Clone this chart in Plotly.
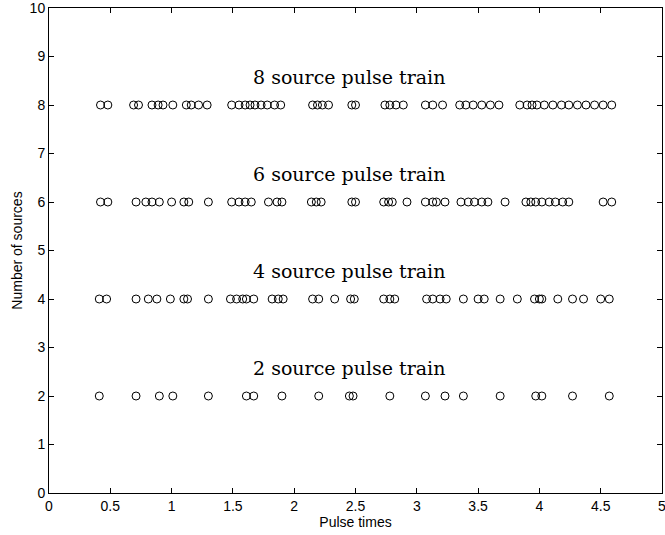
import plotly.graph_objects as go

# Pulse times, one list per train
times_2 = [0.41, 0.71, 0.90, 1.01, 1.30, 1.61, 1.67, 1.90, 2.20, 2.45, 2.48,
           2.78, 3.07, 3.23, 3.38, 3.68, 3.97, 4.02, 4.27, 4.57]
times_4 = [0.41, 0.47, 0.71, 0.81, 0.88, 0.99, 1.10, 1.13, 1.30, 1.48, 1.53,
           1.58, 1.61, 1.67, 1.82, 1.87, 1.91, 2.15, 2.20, 2.33, 2.46, 2.49,
           2.73, 2.78, 2.82, 3.08, 3.13, 3.19, 3.24, 3.38, 3.50, 3.55, 3.68,
           3.82, 3.96, 4.00, 4.02, 4.15, 4.27, 4.36, 4.50, 4.57]
times_6 = [0.42, 0.48, 0.71, 0.79, 0.84, 0.90, 1.00, 1.10, 1.14, 1.30, 1.49,
           1.55, 1.60, 1.65, 1.79, 1.86, 1.90, 2.14, 2.18, 2.22, 2.47, 2.50,
           2.73, 2.77, 2.80, 2.92, 3.07, 3.13, 3.16, 3.23, 3.36, 3.42, 3.47,
           3.53, 3.58, 3.72, 3.89, 3.93, 3.97, 4.02, 4.08, 4.13, 4.19, 4.24,
           4.52, 4.59]
times_8 = [0.42, 0.48, 0.69, 0.73, 0.84, 0.89, 0.93, 1.01, 1.12, 1.16, 1.22,
           1.29, 1.49, 1.55, 1.60, 1.64, 1.68, 1.73, 1.78, 1.84, 1.89, 2.15,
           2.19, 2.23, 2.28, 2.47, 2.50, 2.74, 2.78, 2.83, 2.89, 3.07, 3.13,
           3.21, 3.35, 3.40, 3.46, 3.53, 3.60, 3.67, 3.84, 3.90, 3.94, 3.98,
           4.04, 4.11, 4.18, 4.24, 4.31, 4.38, 4.45, 4.52, 4.59]

trains = [(2, times_2), (4, times_4), (6, times_6), (8, times_8)]
labels = ["2 source pulse train", "4 source pulse train",
          "6 source pulse train", "8 source pulse train"]

x_ticks = [0, 0.5, 1, 1.5, 2, 2.5, 3, 3.5, 4, 4.5, 5]
x_tick_text = ["0", "0.5", "1", "1.5", "2", "2.5", "3", "3.5", "4", "4.5", "5"]
y_ticks = list(range(0, 11))

fig = go.Figure()
for n, t in trains:
    fig.add_trace(go.Scatter(
        x=t, y=[n] * len(t), mode="markers",
        marker=dict(symbol="circle-open", size=8, color="black",
                    line=dict(width=1, color="black")),
        showlegend=False, hoverinfo="skip"))

for (n, _), lab in zip(trains, labels):
    fig.add_annotation(x=2.445, y=n + 0.3, xref="x", yref="y", text=lab,
                       showarrow=False, xanchor="center", yanchor="bottom",
                       font=dict(family="DejaVu Serif", size=19, color="black"))

axis_common = dict(showline=True, linecolor="black", linewidth=1, mirror="ticks",
                   ticks="inside", ticklen=5, tickcolor="black", tickwidth=1,
                   showgrid=False, zeroline=False, automargin=False,
                   ticklabeloverflow="allow",
                   tickfont=dict(family="Liberation Sans", size=14, color="black"))

fig.update_layout(
    width=665, height=535,
    margin=dict(l=49, r=3, t=8, b=42),
    paper_bgcolor="white", plot_bgcolor="white",
    xaxis=dict(range=[0, 5], tickvals=x_ticks, ticktext=x_tick_text,
               title=dict(text="Pulse times", standoff=2,
                          font=dict(family="Liberation Sans", size=14, color="black")),
               **axis_common),
    yaxis=dict(range=[0, 10], tickvals=y_ticks,
               title=dict(text="Number of sources", standoff=3,
                          font=dict(family="Liberation Sans", size=14, color="black")),
               **axis_common),
)

fig.write_html("out.html")
